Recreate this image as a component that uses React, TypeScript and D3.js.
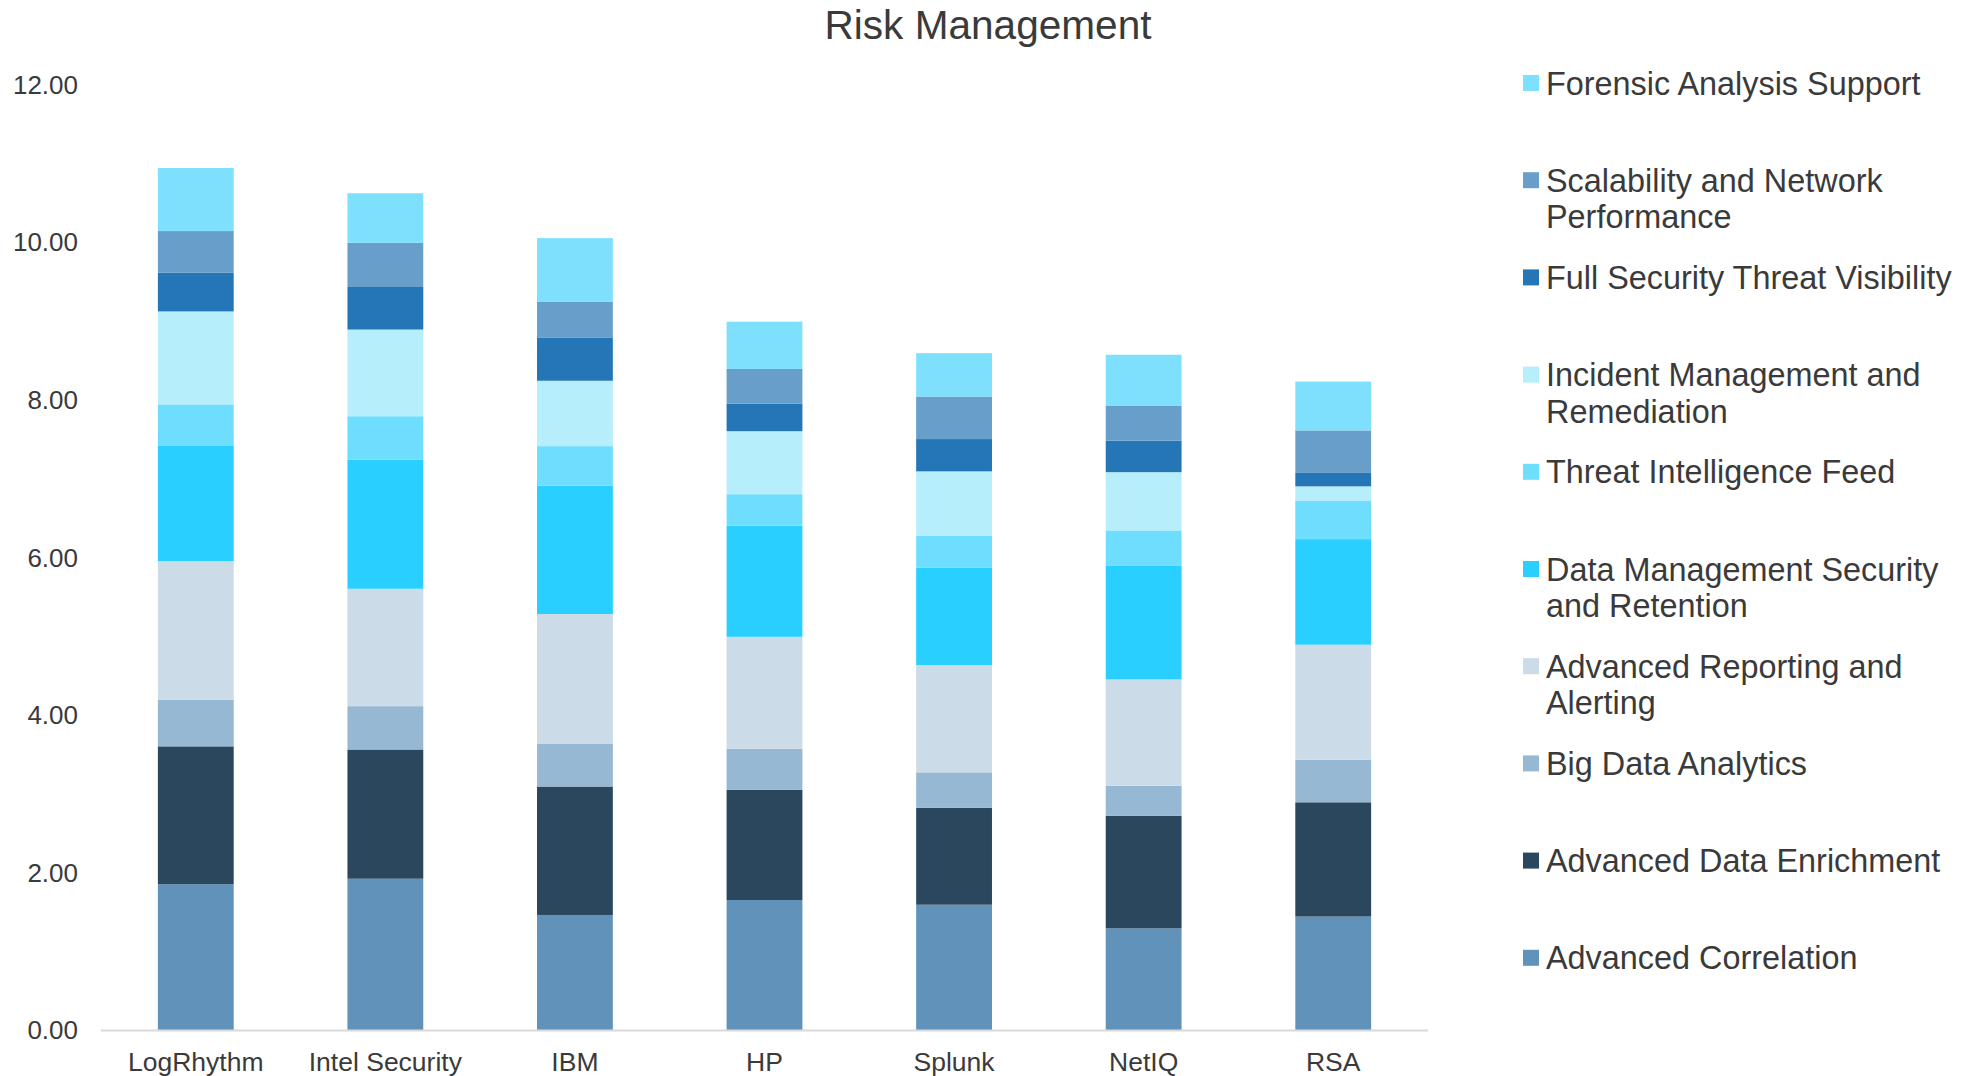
import { useRef, useEffect } from 'react';
import * as d3 from 'd3';

const vendors = ['LogRhythm', 'Intel Security', 'IBM', 'HP', 'Splunk', 'NetIQ', 'RSA'];

// series, bottom of the stack first
const seriesNames = [
  'Advanced Correlation',
  'Advanced Data Enrichment',
  'Big Data Analytics',
  'Advanced Reporting and Alerting',
  'Data Management Security and Retention',
  'Threat Intelligence Feed',
  'Incident Management and Remediation',
  'Full Security Threat Visibility',
  'Scalability and Network Performance',
  'Forensic Analysis Support',
];

const advancedCorrelation = [1.85, 1.92, 1.46, 1.65, 1.59, 1.29, 1.44];
const advancedDataEnrichment = [1.75, 1.64, 1.63, 1.40, 1.23, 1.43, 1.45];
const bigDataAnalytics = [0.59, 0.55, 0.54, 0.52, 0.45, 0.38, 0.54];
const advancedReporting = [1.76, 1.49, 1.65, 1.42, 1.36, 1.35, 1.46];
const dataManagement = [1.47, 1.64, 1.63, 1.41, 1.24, 1.44, 1.34];
const threatIntel = [0.52, 0.55, 0.50, 0.40, 0.40, 0.45, 0.49];
const incidentMgmt = [1.18, 1.10, 0.83, 0.80, 0.82, 0.74, 0.18];
const fullSecurity = [0.49, 0.54, 0.55, 0.35, 0.41, 0.40, 0.17];
const scalability = [0.53, 0.56, 0.45, 0.44, 0.54, 0.44, 0.54];
const forensic = [0.80, 0.63, 0.81, 0.60, 0.55, 0.65, 0.62];

const seriesValues = [
  advancedCorrelation,
  advancedDataEnrichment,
  bigDataAnalytics,
  advancedReporting,
  dataManagement,
  threatIntel,
  incidentMgmt,
  fullSecurity,
  scalability,
  forensic,
];

const seriesColors = [
  '#6193ba',
  '#2a475e',
  '#97b8d3',
  '#cbdbe7',
  '#29cfff',
  '#6fddfd',
  '#b6eefc',
  '#2576b6',
  '#689eca',
  '#7fe0fd',
];

// legend lines (top item first), wrapped like the original
const legendLines: Record<string, string[]> = {
  'Forensic Analysis Support': ['Forensic Analysis Support'],
  'Scalability and Network Performance': ['Scalability and Network', 'Performance'],
  'Full Security Threat Visibility': ['Full Security Threat Visibility'],
  'Incident Management and Remediation': ['Incident Management and', 'Remediation'],
  'Threat Intelligence Feed': ['Threat Intelligence Feed'],
  'Data Management Security and Retention': ['Data Management Security', 'and Retention'],
  'Advanced Reporting and Alerting': ['Advanced Reporting and', 'Alerting'],
  'Big Data Analytics': ['Big Data Analytics'],
  'Advanced Data Enrichment': ['Advanced Data Enrichment'],
  'Advanced Correlation': ['Advanced Correlation'],
};

const yTicks = [0, 2, 4, 6, 8, 10, 12];

const W = 1975;
const H = 1076;
const FONT = '"Liberation Sans", Arial, sans-serif';
const TEXT = '#3a3a3a';

export default function App() {
  const svgRef = useRef<SVGSVGElement>(null);

  useEffect(() => {
    if (!svgRef.current) return;
    const svg = d3.select(svgRef.current);
    svg.selectAll('*').remove();

    const x = d3.scaleBand<string>()
      .domain(vendors)
      .range([101, 1428])
      .paddingInner(0.6)
      .paddingOuter(0.3);
    const y = d3.scaleLinear().domain([0, 12]).range([1030, 84.5]);

    const rows = vendors.map((v, i) => {
      const r: Record<string, number | string> = { vendor: v };
      seriesNames.forEach((s, k) => { r[s] = seriesValues[k][i]; });
      return r;
    });
    const stacked = d3.stack<Record<string, number | string>>().keys(seriesNames)(rows);

    // Title
    svg.append('text')
      .attr('x', 988)
      .attr('y', 39)
      .attr('text-anchor', 'middle')
      .attr('font-size', 40.6)
      .attr('fill', TEXT)
      .text('Risk Management');

    // Bars
    stacked.forEach((layer, k) => {
      svg.append('g')
        .attr('fill', seriesColors[k])
        .selectAll('rect')
        .data(layer)
        .join('rect')
        .attr('x', (d) => x(d.data.vendor as string)!)
        .attr('width', x.bandwidth())
        .attr('y', (d) => y(d[1]))
        .attr('height', (d) => y(d[0]) - y(d[1]));
    });

    // Axis line
    svg.append('line')
      .attr('x1', 101)
      .attr('x2', 1428)
      .attr('y1', y(0) + 0.5)
      .attr('y2', y(0) + 0.5)
      .attr('stroke', '#d9d9d9')
      .attr('stroke-width', 2);

    // Y tick labels
    svg.append('g')
      .selectAll('text')
      .data(yTicks)
      .join('text')
      .attr('x', 78)
      .attr('y', (d) => y(d))
      .attr('dy', '0.36em')
      .attr('text-anchor', 'end')
      .attr('font-size', 26)
      .attr('fill', TEXT)
      .text((d) => d3.format('.2f')(d));

    // Category labels
    svg.append('g')
      .selectAll('text')
      .data(vendors)
      .join('text')
      .attr('x', (d) => x(d)! + x.bandwidth() / 2)
      .attr('y', 1071)
      .attr('text-anchor', 'middle')
      .attr('font-size', 26.5)
      .attr('fill', TEXT)
      .text((d) => d);

    // Legend
    const legendOrder = seriesNames.map((s, k) => ({ s, k })).reverse();
    const legend = svg.append('g').attr('transform', 'translate(1523, 83)');
    legendOrder.forEach(({ s, k }, i) => {
      const g = legend.append('g').attr('transform', `translate(0, ${i * 97.2})`);
      g.append('rect')
        .attr('x', 0)
        .attr('y', -8)
        .attr('width', 16)
        .attr('height', 16)
        .attr('fill', seriesColors[k]);
      legendLines[s].forEach((line, j) => {
        g.append('text')
          .attr('x', 23)
          .attr('y', j * 36.5)
          .attr('dy', '0.36em')
          .attr('font-size', 32.4)
          .attr('fill', TEXT)
          .text(line);
      });
    });
  }, []);

  return (
    <svg
      ref={svgRef}
      width={W}
      height={H}
      style={{ position: 'absolute', left: 0, top: 0, background: '#fff', fontFamily: FONT }}
    />
  );
}
